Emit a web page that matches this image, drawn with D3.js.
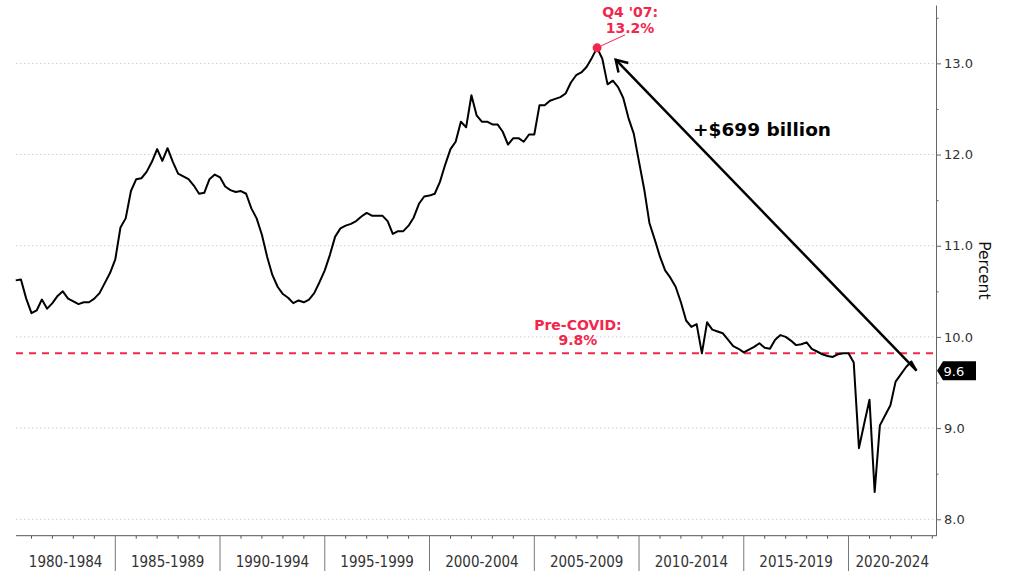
<!DOCTYPE html>
<html>
<head>
<meta charset="utf-8">
<script src="https://cdn.jsdelivr.net/npm/d3@7"></script>
<style>
  body { margin: 0; background: #fff; }
</style>
</head>
<body>
<div id="chart"></div>
<script>
// quarterly values, first one is Q1 1980 (plotted at quarter end)
const startYear = 1980;
const ratio = [
  10.62, 10.63, 10.42, 10.26, 10.29, 10.41, 10.31, 10.37, 10.45, 10.50,
  10.42, 10.39, 10.36, 10.38, 10.38, 10.42, 10.48, 10.59, 10.70, 10.85,
  11.20, 11.30, 11.60, 11.73, 11.74, 11.81, 11.92, 12.06, 11.93, 12.07,
  11.92, 11.79, 11.76, 11.73, 11.66, 11.57, 11.58, 11.73, 11.78, 11.75,
  11.65, 11.61, 11.59, 11.60, 11.57, 11.41, 11.30, 11.12, 10.88, 10.68,
  10.55, 10.47, 10.43, 10.37, 10.40, 10.38, 10.41, 10.48, 10.60, 10.73,
  10.90, 11.10, 11.19, 11.22, 11.24, 11.27, 11.32, 11.36, 11.33, 11.33,
  11.33, 11.27, 11.13, 11.16, 11.16, 11.22, 11.31, 11.46, 11.54, 11.55,
  11.57, 11.70, 11.89, 12.06, 12.14, 12.36, 12.30, 12.65, 12.43, 12.36,
  12.36, 12.33, 12.33, 12.25, 12.11, 12.18, 12.18, 12.14, 12.22, 12.22,
  12.54, 12.54, 12.59, 12.61, 12.63, 12.67, 12.79, 12.87, 12.90, 12.96,
  13.06, 13.17, 13.05, 12.77, 12.81, 12.74, 12.62, 12.40, 12.23, 11.92,
  11.62, 11.25, 11.07, 10.88, 10.73, 10.65, 10.55, 10.38, 10.18, 10.11,
  10.14, 9.82, 10.16, 10.08, 10.06, 10.04, 9.97, 9.90, 9.87, 9.83,
  9.86, 9.89, 9.93, 9.88, 9.87, 9.97, 10.02, 10.00, 9.96, 9.91,
  9.92, 9.94, 9.87, 9.84, 9.81, 9.79, 9.78, 9.81, 9.82, 9.82,
  9.72, 8.78, 9.05, 9.31, 8.30, 9.03, 9.14, 9.25, 9.51, 9.59,
  9.67, 9.73, 9.63
];

const periods = ["1980-1984", "1985-1989", "1990-1994", "1995-1999", "2000-2004",
  "2005-2009", "2010-2014", "2015-2019", "2020-2024"];
const yTicks = [8, 9, 10, 11, 12, 13];
const yMinor = [8.5, 9.5, 10.5, 11.5, 12.5, 13.5];

const preCovid = 9.82;
const peakIndex = 111;
const arrowHead = { date: new Date(2008, 10, 20), value: 13.04 };

const red = "#f2274c";
const width = 1010, height = 573;
const plotLeft = 16, plotRight = 936, plotTop = 5, plotBottom = 535.7;

const dates = ratio.map(function (d, i) {
  return new Date(startYear, 3 + 3 * i, 1);
});

const svg = d3.select("#chart")
  .append("svg")
  .attr("width", width)
  .attr("height", height)
  .style("font-family", "'DejaVu Sans', Verdana, sans-serif");

const x = d3.scaleTime()
  .domain([new Date(1980, 0, 1), new Date(2025, 0, 1)])
  .range([10.5, 953.3]);

const y = d3.scaleLinear()
  .domain([7.82, 13.64])
  .range([plotBottom, plotTop]);

// dotted grid
svg.append("g")
  .selectAll("line")
  .data(yTicks)
  .join("line")
  .attr("x1", plotLeft)
  .attr("x2", plotRight)
  .attr("y1", d => y(d))
  .attr("y2", d => y(d))
  .attr("stroke", "#c9cdd6")
  .attr("stroke-dasharray", "1.5,2.5");

// right axis
const yAxis = svg.append("g")
  .attr("transform", "translate(" + plotRight + ",0)")
  .call(d3.axisRight(y)
    .tickValues(yTicks)
    .tickSize(5)
    .tickSizeOuter(0)
    .tickPadding(3)
    .tickFormat(d3.format(".1f")));
yAxis.select(".domain").attr("stroke", "#666");
yAxis.selectAll(".tick line").attr("stroke", "#666");
yAxis.selectAll("text")
  .attr("fill", "#333")
  .style("font-size", "13px")
  .style("font-family", "'DejaVu Sans', sans-serif");

svg.append("g")
  .attr("transform", "translate(" + plotRight + ",0)")
  .call(d3.axisRight(y).tickValues(yMinor).tickSize(2.5).tickFormat(""))
  .call(g => g.select(".domain").remove())
  .selectAll("line").attr("stroke", "#666");

svg.append("text")
  .attr("transform", "translate(979," + ((plotTop + plotBottom) / 2) + ") rotate(90)")
  .attr("text-anchor", "middle")
  .style("font-size", "15.5px")
  .attr("fill", "#111")
  .text("Percent");

// bottom axis
svg.append("line")
  .attr("x1", plotLeft)
  .attr("x2", plotRight)
  .attr("y1", plotBottom)
  .attr("y2", plotBottom)
  .attr("stroke", "#555");

const years = d3.range(1981, 2025);
svg.append("g")
  .selectAll("line")
  .data(years)
  .join("line")
  .attr("x1", d => x(new Date(d, 0, 1)))
  .attr("x2", d => x(new Date(d, 0, 1)))
  .attr("y1", plotBottom)
  .attr("y2", d => d % 5 === 0 ? 571 : plotBottom + 3)
  .attr("stroke", d => d % 5 === 0 ? "#777" : "#555");

svg.append("g")
  .selectAll("text")
  .data(periods)
  .join("text")
  .attr("x", function (d) {
    const y0 = +d.slice(0, 4);
    const a = Math.max(plotLeft, x(new Date(y0, 0, 1)));
    const b = Math.min(plotRight, x(new Date(y0 + 5, 0, 1)));
    return (a + b) / 2;
  })
  .attr("y", 567)
  .attr("text-anchor", "middle")
  .attr("fill", "#333")
  .style("font-size", "15px")
  .style("font-family", "'DejaVu Sans Condensed', 'Liberation Sans', sans-serif")
  .text(d => d);

// pre-covid level
svg.append("line")
  .attr("x1", plotLeft)
  .attr("x2", plotRight)
  .attr("y1", y(preCovid))
  .attr("y2", y(preCovid))
  .attr("stroke", red)
  .attr("stroke-width", 2)
  .attr("stroke-dasharray", "7,6");

const preX = x(new Date(2007, 1, 1));
svg.append("text")
  .attr("x", preX)
  .attr("y", y(preCovid) - 23)
  .attr("text-anchor", "middle")
  .attr("fill", red)
  .style("font-size", "14px")
  .style("font-weight", "bold")
  .text("Pre-COVID:");
svg.append("text")
  .attr("x", preX)
  .attr("y", y(preCovid) - 8)
  .attr("text-anchor", "middle")
  .attr("fill", red)
  .style("font-size", "14px")
  .style("font-weight", "bold")
  .text("9.8%");

// the series
const line = d3.line()
  .x((d, i) => x(dates[i]))
  .y(d => y(d));

svg.append("path")
  .datum(ratio)
  .attr("fill", "none")
  .attr("stroke", "#000")
  .attr("stroke-width", 2)
  .attr("stroke-linejoin", "round")
  .attr("d", line);

// peak marker
const px = x(dates[peakIndex]), py = y(ratio[peakIndex]);
svg.append("line")
  .attr("x1", px + 4)
  .attr("y1", py - 2)
  .attr("x2", px + 28)
  .attr("y2", py - 13)
  .attr("stroke", red)
  .attr("stroke-width", 1);
svg.append("circle")
  .attr("cx", px)
  .attr("cy", py)
  .attr("r", 4.5)
  .attr("fill", red);
svg.append("text")
  .attr("x", px + 33)
  .attr("y", py - 31)
  .attr("text-anchor", "middle")
  .attr("fill", red)
  .style("font-size", "14px")
  .style("font-weight", "bold")
  .text("Q4 '07:");
svg.append("text")
  .attr("x", px + 33)
  .attr("y", py - 15)
  .attr("text-anchor", "middle")
  .attr("fill", red)
  .style("font-size", "14px")
  .style("font-weight", "bold")
  .text("13.2%");

// big arrow from latest value back to the peak
const last = ratio.length - 1;
const tx = x(dates[last]), ty = y(ratio[last]);
const hx = x(arrowHead.date), hy = y(arrowHead.value);
const ang = Math.atan2(ty - hy, tx - hx);
const arm = 13;
svg.append("line")
  .attr("x1", tx)
  .attr("y1", ty)
  .attr("x2", hx)
  .attr("y2", hy)
  .attr("stroke", "#000")
  .attr("stroke-width", 2.5);
svg.append("path")
  .attr("d", "M" + (hx + arm * Math.cos(ang - 0.55)) + "," + (hy + arm * Math.sin(ang - 0.55)) +
    "L" + hx + "," + hy +
    "L" + (hx + arm * Math.cos(ang + 0.55)) + "," + (hy + arm * Math.sin(ang + 0.55)))
  .attr("fill", "none")
  .attr("stroke", "#000")
  .attr("stroke-width", 2.5);

svg.append("text")
  .attr("x", x(new Date(2012, 7, 1)))
  .attr("y", y(12.2))
  .attr("fill", "#000")
  .style("font-size", "18.5px")
  .style("font-weight", "bold")
  .text("+$699 billion");

// last value tag
const tagY = y(ratio[last]);
svg.append("path")
  .attr("d", "M" + (plotRight + 1) + "," + tagY +
    "L" + (plotRight + 7) + "," + (tagY - 9.5) +
    "L976," + (tagY - 9.5) +
    "L976," + (tagY + 9.5) +
    "L" + (plotRight + 7) + "," + (tagY + 9.5) + "Z")
  .attr("fill", "#000");
svg.append("text")
  .attr("x", plotRight + 7.5)
  .attr("y", tagY + 5.5)
  .attr("fill", "#fff")
  .style("font-size", "13px")
  .text(d3.format(".1f")(ratio[last]));
</script>
</body>
</html>
